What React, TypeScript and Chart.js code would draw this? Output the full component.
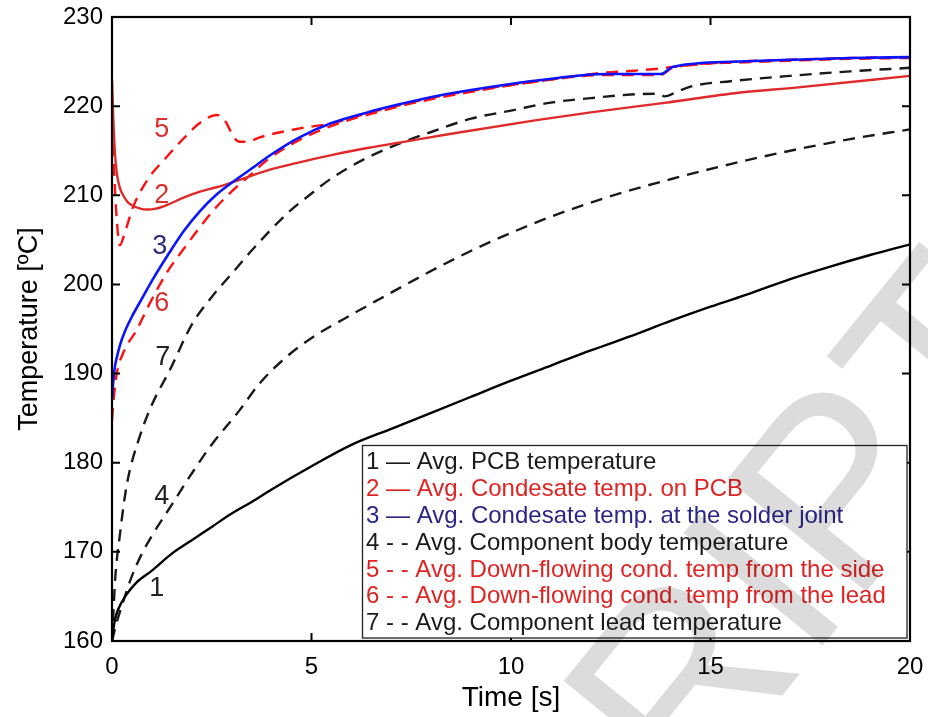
import { useEffect, useRef } from "react";
import { Chart, registerables } from "chart.js";

Chart.register(...registerables);

// ---- Data ----
const xTicks = [0, 5, 10, 15, 20];
const yTicks = [160, 170, 180, 190, 200, 210, 220, 230];

// 1 Avg. PCB temperature
const timePcb = [0, 0.03, 0.08, 0.15, 0.33, 0.6, 1, 1.5, 2, 2.5, 3, 3.5, 4, 5, 6, 7, 8, 9, 10, 11, 12, 13, 14, 15, 16, 17, 18, 19, 20];
const tempPcb = [160, 161.2, 162.5, 163.5, 165, 166.5, 167.9, 169.8, 171.3, 172.8, 174.3, 175.6, 177, 179.6, 182, 183.8, 185.6, 187.4, 189.2, 190.9, 192.6, 194.2, 195.9, 197.5, 199, 200.6, 202, 203.3, 204.5];

// 2 Avg. Condensate temp. on PCB
const timeCondPcb = [0, 0.03, 0.07, 0.12, 0.2, 0.28, 0.4, 0.53, 0.87, 1.1, 1.37, 1.78, 2.2, 2.62, 3.04, 3.9, 4.7, 5.5, 6.4, 7.2, 8.5, 10.6, 12, 13.9, 15.7, 17.2, 20];
const tempCondPcb = [223, 219, 215, 212.5, 210.8, 210, 209.2, 208.8, 208.4, 208.5, 208.9, 209.7, 210.4, 210.9, 211.5, 212.8, 213.7, 214.5, 215.3, 215.9, 216.9, 218.4, 219.3, 220.4, 221.5, 222.1, 223.4];

// 3 Avg. Condensate temp. at the solder joint
const timeCondJoint = [0, 0.03, 0.07, 0.12, 0.2, 0.33, 0.5, 0.75, 1, 1.4, 1.8, 2.2, 2.6, 3, 3.5, 4, 4.7, 5.5, 6.4, 7.2, 8.2, 9.4, 10.7, 12.4, 13.75, 14.05, 15.7, 17, 18.5, 20];
const tempCondJoint = [187, 189, 190.7, 191.8, 193.2, 194.8, 196.4, 198.4, 200.4, 203.3, 206, 208.2, 210, 211.4, 213, 214.6, 216.5, 218.1, 219.3, 220.2, 221.2, 222.1, 222.9, 223.6, 223.6, 224.4, 225, 225.2, 225.4, 225.5];

// 4 Avg. Component body temperature
const timeBody = [0, 0.1, 0.25, 0.5, 0.75, 1, 1.5, 2, 2.46, 3.2, 3.7, 4.38, 5.04, 5.8, 6.72, 7.7, 8.6, 9.6, 11, 12.5, 14, 15.5, 17, 18.5, 20];
const tempBody = [160, 161.8, 164, 167.3, 169.8, 171.8, 175.3, 178.8, 181.8, 185.9, 188.9, 191.9, 194.1, 196.1, 198.4, 200.8, 202.9, 205, 207.6, 209.9, 211.8, 213.5, 215, 216.3, 217.4];

// 5 Avg. Down-flowing cond. temp from the side
const timeSide = [0, 0.04, 0.1, 0.2, 0.3, 0.53, 0.9, 1.37, 1.8, 2.2, 2.62, 2.75, 2.87, 3.04, 3.2, 3.4, 3.7, 4.7, 5.55, 6.4, 7.2, 8.2, 9.4, 10.7, 12.2, 13, 13.7, 14.05, 15.7, 17, 18.5, 20];
const tempSide = [218, 214, 208.5, 204.4, 205.5, 208.7, 211.8, 214.3, 216.4, 218.1, 219, 218.8, 218.1, 216.6, 216, 216, 216.5, 217.5, 218.1, 219.2, 220.1, 221.1, 222, 222.8, 223.7, 223.95, 224.2, 224.4, 225, 225.2, 225.4, 225.5];

// 6 Avg. Down-flowing cond. temp from the lead
const timeLead = [0, 0.05, 0.12, 0.3, 0.62, 0.95, 1.37, 1.8, 2.2, 2.6, 3.04, 3.5, 3.9, 4.7, 5.7, 6.8, 7.7, 9, 10.7, 12.4, 13.75, 14.05, 15.7, 17, 18.5, 20];
const tempLead = [184.8, 187.5, 190, 192.5, 194.9, 197.9, 201.3, 204, 206.4, 208.6, 210.6, 212.4, 214, 216.2, 218.1, 219.5, 220.5, 221.6, 222.8, 223.5, 223.5, 224.3, 224.9, 225.1, 225.3, 225.4];

// 7 Avg. Component lead temperature
const timeLeadComp = [0, 0.03, 0.08, 0.2, 0.37, 0.7, 1, 1.45, 2, 2.5, 3, 3.5, 4.4, 5, 5.5, 6.3, 7.2, 8, 9, 10, 11, 12, 13, 13.7, 13.85, 14.2, 14.6, 15.5, 17, 18.5, 20];
const tempLeadComp = [160, 162.7, 167, 172, 177.5, 183, 186.5, 190.4, 195.5, 198.6, 201.2, 203.8, 208, 210.2, 211.9, 214, 215.8, 217.1, 218.6, 219.5, 220.4, 220.9, 221.3, 221.4, 221.1, 221.7, 222.3, 222.8, 223.4, 223.9, 224.3];

// Curve number annotations
const curveNumbers = ["5", "2", "3", "6", "7", "4", "1"];
const curveNumberTime = [1.25, 1.25, 1.2, 1.25, 1.27, 1.25, 1.12];
const curveNumberTemp = [217.4, 210.0, 204.2, 197.9, 191.8, 176.2, 165.9];
const curveNumberColors = ["#d8312f", "#d8312f", "#2e2a7e", "#d8312f", "#222222", "#222222", "#222222"];

// Legend entries
const legendLabels = [
  "1 \u2014 Avg. PCB temperature",
  "2 \u2014 Avg. Condesate temp. on PCB",
  "3 \u2014 Avg. Condesate temp. at the solder joint",
  "4 - - Avg. Component body temperature",
  "5 - - Avg. Down-flowing cond. temp from the side",
  "6 - - Avg. Down-flowing cond. temp from the lead",
  "7 - - Avg. Component lead temperature",
];
const legendColors = ["#1a1a1a", "#e02424", "#2b2585", "#1a1a1a", "#e02424", "#e02424", "#1a1a1a"];

const FONT = '"Liberation Sans", Arial, Helvetica, sans-serif';

const pts = (t: number[], v: number[]) => t.map((x, i) => ({ x, y: v[i] }));

const watermarkPlugin = {
  id: "watermark",
  afterDraw(chart: any) {
    const ctx = chart.ctx;
    ctx.save();
    ctx.globalCompositeOperation = "multiply";
    ctx.fillStyle = "#dcdcdc";
    ctx.font = `260px ${FONT}`;
    ctx.translate(1062, 350);
    ctx.rotate((-51 * Math.PI) / 180);
    ctx.textAlign = "right";
    ctx.textBaseline = "alphabetic";
    ctx.fillText("ACCEPTED MANUSCRIPT", 0, 0);
    ctx.restore();
  },
};

const framePlugin = {
  id: "frame",
  afterDatasetsDraw(chart: any) {
    const ctx = chart.ctx;
    const { left, right, top, bottom } = chart.chartArea;
    const xs = chart.scales.x;
    const ys = chart.scales.y;
    ctx.save();
    ctx.strokeStyle = "#000";
    ctx.lineWidth = 2;
    ctx.beginPath();
    xTicks.forEach((v) => {
      const p = xs.getPixelForValue(v);
      ctx.moveTo(p, bottom);
      ctx.lineTo(p, bottom - 8);
      ctx.moveTo(p, top);
      ctx.lineTo(p, top + 8);
    });
    yTicks.forEach((v) => {
      const p = ys.getPixelForValue(v);
      ctx.moveTo(left, p);
      ctx.lineTo(left + 8, p);
      ctx.moveTo(right, p);
      ctx.lineTo(right - 8, p);
    });
    ctx.stroke();
    ctx.lineWidth = 2.2;
    ctx.strokeRect(left, top, right - left, bottom - top);

    // curve numbers
    ctx.font = `27px ${FONT}`;
    ctx.textAlign = "center";
    ctx.textBaseline = "middle";
    curveNumbers.forEach((s, i) => {
      ctx.fillStyle = curveNumberColors[i];
      ctx.fillText(s, xs.getPixelForValue(curveNumberTime[i]), ys.getPixelForValue(curveNumberTemp[i]));
    });

    // legend
    const bx = 362.5;
    const by = 445.5;
    const bw = right - 3 - bx;
    const bh = bottom - 3 - by;
    ctx.fillStyle = "#fff";
    ctx.fillRect(bx, by, bw, bh);
    ctx.strokeStyle = "#222";
    ctx.lineWidth = 1.3;
    ctx.strokeRect(bx, by, bw, bh);
    ctx.font = `24px ${FONT}`;
    ctx.textAlign = "left";
    ctx.textBaseline = "middle";
    legendLabels.forEach((s, i) => {
      ctx.fillStyle = legendColors[i];
      ctx.fillText(s, 366, 462.5 + i * 26.85);
    });
    ctx.restore();
  },
};

export default function App() {
  const ref = useRef<HTMLCanvasElement | null>(null);
  useEffect(() => {
    document.body.style.margin = "0";
    const canvas = ref.current;
    if (!canvas) return;
    const line = (data: any, color: string, dashed: boolean, order: number, width = 2.4) => ({
      data,
      borderColor: color,
      backgroundColor: color,
      borderWidth: width,
      borderDash: dashed ? [12, 8] : [],
      pointRadius: 0,
      fill: false,
      cubicInterpolationMode: "monotone" as const,
      order,
    });
    const chart = new Chart(canvas, {
      type: "line",
      data: {
        datasets: [
          line(pts(timePcb, tempPcb), "#000000", false, 3),
          line(pts(timeCondPcb, tempCondPcb), "#e02a2a", false, 2),
          line(pts(timeCondJoint, tempCondJoint), "#0a14ff", false, 0, 2.6),
          line(pts(timeBody, tempBody), "#1a1a1a", true, 4),
          line(pts(timeSide, tempSide), "#ff1010", true, 5),
          line(pts(timeLead, tempLead), "#ff1010", true, 6),
          line(pts(timeLeadComp, tempLeadComp), "#1a1a1a", true, 4),
        ],
      },
      options: {
        responsive: false,
        animation: false,
        layout: { padding: { top: 17, right: 18, left: 0, bottom: 0 } },
        plugins: { legend: { display: false }, tooltip: { enabled: false } },
        scales: {
          x: {
            type: "linear",
            min: 0,
            max: 20,
            afterBuildTicks: (s: any) => {
              s.ticks = xTicks.map((v) => ({ value: v }));
            },
            afterFit: (s: any) => {
              s.height = 76;
              s.paddingLeft = 0;
              s.paddingRight = 0;
            },
            grid: { display: false, drawTicks: false },
            border: { display: false },
            ticks: { color: "#000", font: { family: FONT, size: 24 }, padding: 12, maxRotation: 0 },
            title: {
              display: true,
              text: "Time [s]",
              color: "#000",
              font: { family: FONT, size: 28, lineHeight: 1 },
              padding: { top: 0, bottom: 5 },
            },
          },
          y: {
            type: "linear",
            min: 160,
            max: 230,
            afterBuildTicks: (s: any) => {
              s.ticks = yTicks.map((v) => ({ value: v }));
            },
            afterFit: (s: any) => {
              s.width = 112;
              s.paddingTop = 0;
              s.paddingBottom = 0;
            },
            grid: { display: false, drawTicks: false },
            border: { display: false },
            ticks: { color: "#000", font: { family: FONT, size: 24 }, padding: 9 },
            title: {
              display: true,
              text: "Temperature [\u00baC]",
              color: "#000",
              font: { family: FONT, size: 27, lineHeight: 1 },
              padding: { top: 16, bottom: 0 },
            },
          },
        },
      },
      plugins: [framePlugin, watermarkPlugin],
    });
    return () => chart.destroy();
  }, []);
  return (
    <div style={{ width: 928, height: 717 }}>
      <canvas ref={ref} width={928} height={717} />
    </div>
  );
}
